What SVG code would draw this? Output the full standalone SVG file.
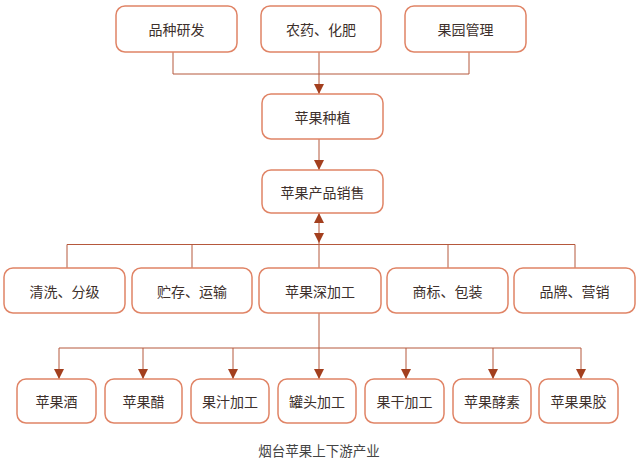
<svg xmlns="http://www.w3.org/2000/svg" width="640" height="467" viewBox="0 0 640 467">
<defs>
<style>
.box rect{fill:#fff;stroke:#e08466;stroke-width:1.5}
.box text{font-family:"Noto Sans CJK SC","Noto Sans",sans-serif;font-size:14px;fill:#3d302c;text-anchor:middle;dominant-baseline:central}
.ln{fill:none;stroke:#b5583c;stroke-width:1}
.cap{font-family:"Noto Sans CJK SC","Noto Sans",sans-serif;font-size:13.5px;fill:#444;text-anchor:middle}
</style>
<marker id="ah" viewBox="0 0 10 10" refX="10" refY="5" markerWidth="10" markerHeight="10" markerUnits="userSpaceOnUse" orient="auto-start-reverse">
<path d="M0,0 L10,5 L0,10 Z" fill="#a33f1e"/>
</marker>
</defs>
<rect width="640" height="467" fill="#fff"/>
<g id="connectors">
<polyline class="ln" points="173,52 173,74 469,74 469,52"/>
<line class="ln" x1="319" y1="52" x2="319" y2="94" marker-end="url(#ah)"/>
<line class="ln" x1="319" y1="139" x2="319" y2="170" marker-end="url(#ah)"/>
<line class="ln" x1="319" y1="213" x2="319" y2="243" marker-start="url(#ah)" marker-end="url(#ah)"/>
<polyline class="ln" points="67,268 67,244.5 575,244.5 575,268"/>
<line class="ln" x1="192" y1="244.5" x2="192" y2="268"/>
<line class="ln" x1="448" y1="244.5" x2="448" y2="268"/>
<line class="ln" x1="319" y1="243" x2="319" y2="268"/>
<line class="ln" x1="319" y1="313" x2="319" y2="379" marker-end="url(#ah)"/>
<line class="ln" x1="59" y1="348" x2="581" y2="348"/>
<line class="ln" x1="59" y1="348" x2="59" y2="379" marker-end="url(#ah)"/>
<line class="ln" x1="143" y1="348" x2="143" y2="379" marker-end="url(#ah)"/>
<line class="ln" x1="233" y1="348" x2="233" y2="379" marker-end="url(#ah)"/>
<line class="ln" x1="406" y1="348" x2="406" y2="379" marker-end="url(#ah)"/>
<line class="ln" x1="493" y1="348" x2="493" y2="379" marker-end="url(#ah)"/>
<line class="ln" x1="581" y1="348" x2="581" y2="379" marker-end="url(#ah)"/>
</g>
<g id="n1" class="box"><rect x="116" y="6" width="121" height="46" rx="9"/><text x="176.5" y="29">品种研发</text></g>
<g id="n2" class="box"><rect x="261" y="6" width="120" height="46" rx="9"/><text x="321" y="29">农药、化肥</text></g>
<g id="n3" class="box"><rect x="405" y="6" width="121" height="46" rx="9"/><text x="465.5" y="29">果园管理</text></g>
<g id="n4" class="box"><rect x="262" y="94" width="121" height="45" rx="9"/><text x="322.5" y="116.5">苹果种植</text></g>
<g id="n5" class="box"><rect x="262" y="170" width="121" height="43" rx="9"/><text x="322.5" y="191.5">苹果产品销售</text></g>
<g id="n6" class="box"><rect x="4" y="268" width="121" height="45" rx="9"/><text x="64.5" y="290.5">清洗、分级</text></g>
<g id="n7" class="box"><rect x="132" y="268" width="120" height="45" rx="9"/><text x="192" y="290.5">贮存、运输</text></g>
<g id="n8" class="box"><rect x="259" y="268" width="122" height="45" rx="9"/><text x="320" y="290.5">苹果深加工</text></g>
<g id="n9" class="box"><rect x="387" y="268" width="121" height="45" rx="9"/><text x="447.5" y="290.5">商标、包装</text></g>
<g id="n10" class="box"><rect x="514" y="268" width="121" height="45" rx="9"/><text x="574.5" y="290.5">品牌、营销</text></g>
<g id="n11" class="box"><rect x="17" y="379" width="79" height="44" rx="9"/><text x="56.5" y="401">苹果酒</text></g>
<g id="n12" class="box"><rect x="105" y="379" width="77" height="44" rx="9"/><text x="143.5" y="401">苹果醋</text></g>
<g id="n13" class="box"><rect x="191" y="379" width="78" height="44" rx="9"/><text x="230" y="401">果汁加工</text></g>
<g id="n14" class="box"><rect x="278" y="379" width="78" height="44" rx="9"/><text x="317" y="401">罐头加工</text></g>
<g id="n15" class="box"><rect x="365" y="379" width="79" height="44" rx="9"/><text x="404.5" y="401">果干加工</text></g>
<g id="n16" class="box"><rect x="453" y="379" width="78" height="44" rx="9"/><text x="492" y="401">苹果酵素</text></g>
<g id="n17" class="box"><rect x="539" y="379" width="79" height="44" rx="9"/><text x="578.5" y="401">苹果果胶</text></g>
<text class="cap" x="319" y="456">烟台苹果上下游产业</text>
</svg>
